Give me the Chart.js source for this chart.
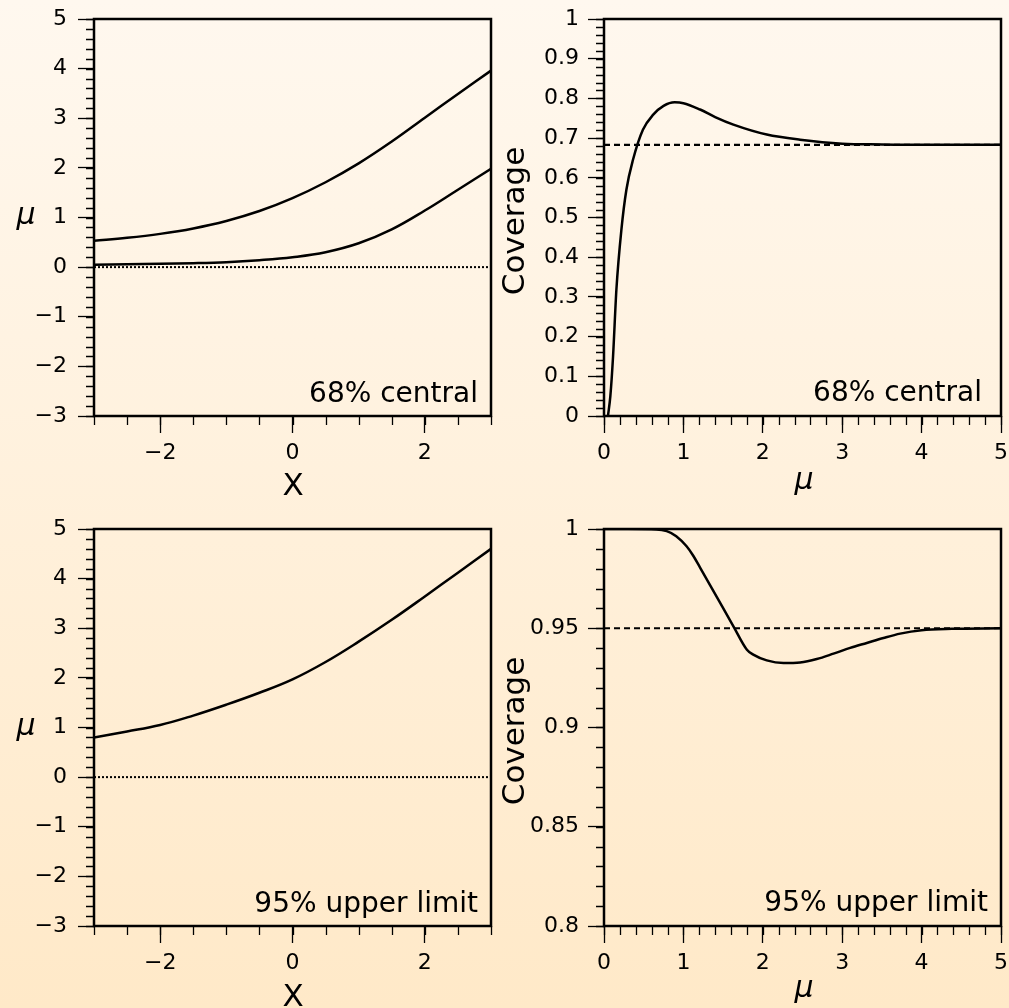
<!DOCTYPE html>
<html><head><meta charset="utf-8">
<script src="https://cdn.jsdelivr.net/npm/chart.js@4/dist/chart.umd.min.js"></script>
<style>
html,body{margin:0;padding:0;}
body{width:1009px;height:1008px;background:linear-gradient(to bottom,#fff8ef 0%,#ffe9c8 100%);position:relative;overflow:hidden;}
canvas{position:absolute;left:0;top:0;}
</style></head><body>
<canvas id="c1" width="1009" height="1008"></canvas>
<canvas id="c2" width="1009" height="1008"></canvas>
<canvas id="c3" width="1009" height="1008"></canvas>
<canvas id="c4" width="1009" height="1008"></canvas>
<script>
// ---- data ----
const xObs = [-3,-2.5,-2,-1.5,-1,-0.5,0,0.5,1,1.5,2,2.5,3];
const upper68 = [0.53,0.59,0.67,0.78,0.93,1.13,1.39,1.71,2.09,2.53,3.01,3.49,3.96];
const lower68 = [0.05,0.06,0.07,0.08,0.10,0.14,0.20,0.30,0.48,0.76,1.14,1.56,1.98];
const upper95 = [0.80,0.92,1.05,1.24,1.46,1.70,1.97,2.32,2.73,3.17,3.64,4.12,4.60];
const zeroX = [-3,3];
const zeroY = [0,0];

const muCov68 = [0.05,0.08,0.114,0.156,0.219,0.282,0.366,0.49,0.62,0.75,0.89,1.0,1.21,1.4,1.63,2.05,2.47,3.0,3.5,4.0,4.5,5.0];
const cov68   = [0,0.05,0.15,0.318,0.469,0.57,0.646,0.721,0.759,0.781,0.790,0.788,0.772,0.753,0.734,0.709,0.696,0.686,0.684,0.683,0.683,0.683];
const muCov95 = [0,0.3,0.66,0.79,0.91,1.04,1.12,1.21,1.42,1.63,1.80,1.88,2.05,2.26,2.47,2.68,2.89,3.1,3.31,3.52,3.73,4.0,4.38,5.0];
const cov95   = [1,1,0.9998,0.9989,0.9964,0.9913,0.9868,0.9806,0.9658,0.9510,0.9392,0.9367,0.9338,0.9325,0.9328,0.9345,0.9372,0.9401,0.9426,0.9451,0.9473,0.9490,0.9497,0.9500];
const refMu = [0,5];
const ref68 = [0.683,0.683];
const ref95 = [0.95,0.95];

// ---- ticks ----
const xObsTicks = [-2,0,2];
const xObsLabels = ['\u22122','0','2'];
const muAxisTicks = [-3,-2,-1,0,1,2,3,4,5];
const muAxisLabels = ['\u22123','\u22122','\u22121','0','1','2','3','4','5'];
const muXTicks = [0,1,2,3,4,5];
const muXLabels = ['0','1','2','3','4','5'];
const cov68Ticks = [0,0.1,0.2,0.3,0.4,0.5,0.6,0.7,0.8,0.9,1];
const cov68Labels = ['0','0.1','0.2','0.3','0.4','0.5','0.6','0.7','0.8','0.9','1'];
const cov95Ticks = [0.8,0.85,0.9,0.95,1];
const cov95Labels = ['0.8','0.85','0.9','0.95','1'];

const FONT = 'DejaVu Sans';
const TICK_SIZE = 22;
Chart.defaults.font.family = FONT;
Chart.defaults.font.size = TICK_SIZE;
Chart.defaults.color = '#000';

const pts = (xs, ys) => xs.map((x, i) => ({x, y: ys[i]}));

const deco = {
  id: 'deco',
  afterDraw(chart, args, o) {
    const ctx = chart.ctx, a = chart.chartArea;
    const xs = chart.scales.x, ys = chart.scales.y;
    ctx.save();
    ctx.strokeStyle = '#000';
    ctx.fillStyle = '#000';
    // minor ticks
    ctx.lineWidth = 1.3;
    ctx.beginPath();
    for (let v = o.minorX.from; v <= o.minorX.to + 1e-9; v += o.minorX.step) {
      const px = Math.round(xs.getPixelForValue(v)) + 0.5;
      ctx.moveTo(px, a.bottom); ctx.lineTo(px, a.bottom + 9);
    }
    for (let v = o.minorY.from; v <= o.minorY.to + 1e-9; v += o.minorY.step) {
      const py = Math.round(ys.getPixelForValue(v)) + 0.5;
      ctx.moveTo(a.left, py); ctx.lineTo(a.left - 8, py);
    }
    ctx.stroke();
    // frame
    ctx.lineWidth = 2.5;
    ctx.strokeRect(a.left, a.top, a.right - a.left, a.bottom - a.top);
    // titles
    const t = o.yTitle;
    ctx.font = t.font;
    ctx.textAlign = 'center';
    ctx.textBaseline = 'alphabetic';
    if (t.rotate) {
      ctx.save(); ctx.translate(t.x, t.y); ctx.rotate(-Math.PI / 2);
      ctx.fillText(t.text, 0, 0); ctx.restore();
    } else {
      ctx.fillText(t.text, t.x, t.y);
    }
    const xt = o.xTitle;
    ctx.font = xt.font;
    ctx.fillText(xt.text, xt.x, xt.y);
    // note
    ctx.font = '28px ' + FONT;
    ctx.textAlign = 'right';
    ctx.fillText(o.note.text, o.note.x, o.note.y);
    ctx.restore();
  }
};

function makePanel(id, area, xAx, yAx, datasets, decoOpts) {
  const yW = 80, xH = 70;
  new Chart(document.getElementById(id), {
    type: 'line',
    data: { datasets },
    options: {
      responsive: false, animation: false, events: [],
      layout: { padding: { left: area.left - yW, top: area.top, right: 1009 - area.right, bottom: 1008 - area.bottom - xH } },
      plugins: { legend: { display: false }, tooltip: { enabled: false }, deco: decoOpts },
      elements: { point: { radius: 0 }, line: { borderColor: '#000', borderWidth: 2.5 } },
      scales: {
        x: {
          type: 'linear', min: xAx.min, max: xAx.max,
          afterBuildTicks: s => { s.ticks = xAx.ticks.map(v => ({value: v})); },
          afterFit: s => { s.height = xH; s.paddingLeft = 0; s.paddingRight = 0; },
          grid: { display: true, drawOnChartArea: false, drawTicks: true, tickLength: 17, tickColor: '#000', tickWidth: 1.3 },
          border: { display: false },
          ticks: { color: '#000', font: { family: FONT, size: TICK_SIZE }, padding: 7, maxRotation: 0, autoSkip: false,
                   callback: (v, i) => xAx.labels[i] }
        },
        y: {
          type: 'linear', min: yAx.min, max: yAx.max,
          afterBuildTicks: s => { s.ticks = yAx.ticks.map(v => ({value: v})); },
          afterFit: s => { s.width = yW; s.paddingTop = 0; s.paddingBottom = 0; },
          grid: { display: true, drawOnChartArea: false, drawTicks: true, tickLength: 16, tickColor: '#000', tickWidth: 1.3 },
          border: { display: false },
          ticks: { color: '#000', font: { family: FONT, size: TICK_SIZE }, padding: yAx.pad, autoSkip: false,
                   callback: (v, i) => yAx.labels[i] }
        }
      }
    },
    plugins: [deco]
  });
}

const smooth = (xs, ys) => ({ data: pts(xs, ys), borderColor: '#000', borderWidth: 2.5, fill: false, tension: 0.4 });
const mono = (xs, ys) => ({ data: pts(xs, ys), borderColor: '#000', borderWidth: 2.5, fill: false, cubicInterpolationMode: 'monotone' });
const dotted = (xs, ys) => ({ data: pts(xs, ys), borderColor: '#000', borderWidth: 2, borderDash: [2, 2], fill: false, tension: 0 });
const dashed = (xs, ys) => ({ data: pts(xs, ys), borderColor: '#000', borderWidth: 2.2, borderDash: [6, 4], fill: false, tension: 0 });

const muFont = 'italic 30px ' + FONT;
const covFont = '31px ' + FONT;

makePanel('c1', {left: 94, top: 19, right: 491, bottom: 416},
  {min: -3, max: 3, ticks: xObsTicks, labels: xObsLabels},
  {min: -3, max: 5, ticks: muAxisTicks, labels: muAxisLabels, pad: 11},
  [dotted(zeroX, zeroY), smooth(xObs, upper68), smooth(xObs, lower68)],
  {minorX: {from: -3, to: 3, step: 0.5}, minorY: {from: -3, to: 5, step: 0.2},
   yTitle: {text: '\u03bc', x: 26, y: 224, font: muFont},
   xTitle: {text: 'X', x: 293, y: 495, font: covFont},
   note: {text: '68% central', x: 478, y: 402}});

makePanel('c2', {left: 604, top: 19, right: 1001, bottom: 416},
  {min: 0, max: 5, ticks: muXTicks, labels: muXLabels},
  {min: 0, max: 1, ticks: cov68Ticks, labels: cov68Labels, pad: 9},
  [dashed(refMu, ref68), mono(muCov68, cov68)],
  {minorX: {from: 0, to: 5, step: 0.2}, minorY: {from: 0, to: 1, step: 0.02},
   yTitle: {text: 'Coverage', x: 524, y: 221, rotate: true, font: covFont},
   xTitle: {text: '\u03bc', x: 804, y: 489, font: muFont},
   note: {text: '68% central', x: 982, y: 401}});

makePanel('c3', {left: 94, top: 529, right: 491, bottom: 926},
  {min: -3, max: 3, ticks: xObsTicks, labels: xObsLabels},
  {min: -3, max: 5, ticks: muAxisTicks, labels: muAxisLabels, pad: 11},
  [dotted(zeroX, zeroY), smooth(xObs, upper95)],
  {minorX: {from: -3, to: 3, step: 0.5}, minorY: {from: -3, to: 5, step: 0.2},
   yTitle: {text: '\u03bc', x: 26, y: 735, font: muFont},
   xTitle: {text: 'X', x: 293, y: 1006, font: covFont},
   note: {text: '95% upper limit', x: 478, y: 912}});

makePanel('c4', {left: 604, top: 529, right: 1001, bottom: 926},
  {min: 0, max: 5, ticks: muXTicks, labels: muXLabels},
  {min: 0.8, max: 1, ticks: cov95Ticks, labels: cov95Labels, pad: 9},
  [dashed(refMu, ref95), mono(muCov95, cov95)],
  {minorX: {from: 0, to: 5, step: 0.2}, minorY: {from: 0.8, to: 1, step: 0.01},
   yTitle: {text: 'Coverage', x: 524, y: 731, rotate: true, font: covFont},
   xTitle: {text: '\u03bc', x: 804, y: 997, font: muFont},
   note: {text: '95% upper limit', x: 988, y: 911}});
</script>
</body></html>
